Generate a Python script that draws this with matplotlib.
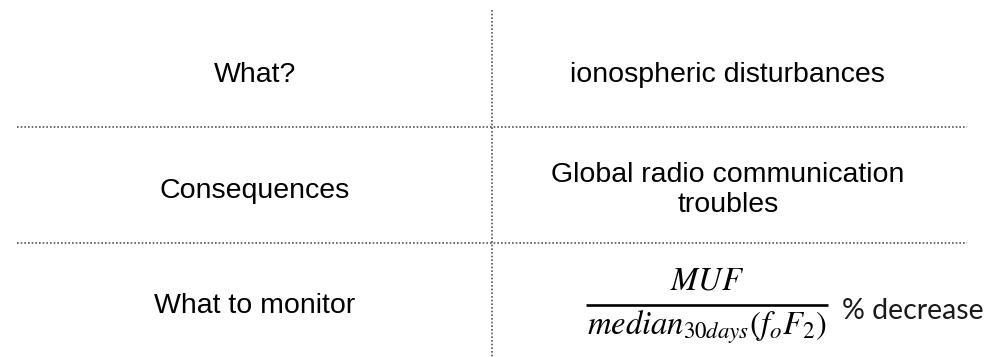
import matplotlib.pyplot as plt

# table content, one entry per row
labels = ["What?", "Consequences", "What to monitor"]
answers = ["ionospheric disturbances",
           "Global radio communication\ntroubles",
           None]
numerator = r"$MUF$"
denominator = r"$median_{30days}(f_oF_2)$"
formula_note = "% decrease"

plt.rcParams['mathtext.fontset'] = 'stix'

fig = plt.figure(figsize=(9.88, 3.57), dpi=100)
ax = fig.add_axes([0, 0, 1, 1])
ax.set_xlim(0, 988)
ax.set_ylim(357, 0)
ax.axis('off')

row_h = 116
top = 10
line_kw = dict(color='#555555', linestyle=(0, (1, 1.2)), linewidth=1.2)

# grid: one vertical divider, horizontal dividers between rows
ax.plot([492, 492], [top, 357], **line_kw)
for i in range(1, len(labels)):
    y = top + i * row_h + 1
    ax.plot([17, 967], [y, y], **line_kw)

for i, lab in enumerate(labels):
    base = 82 + i * 115.5
    ax.text(255, base, lab, ha='center', va='baseline', fontsize=20.5,
            family='Liberation Sans', color='black')
    if answers[i] is None:
        # fraction drawn as numerator / bar / denominator
        ax.text(707, base - 23, numerator, ha='center', va='baseline', fontsize=23.5, color='black')
        ax.plot([586, 828], [base - 8, base - 8], color='black', linewidth=1.9,
                solid_capstyle='butt')
        ax.text(707, base + 21, denominator, ha='center', va='baseline', fontsize=23.5, color='black')
        ax.text(913, base + 6, formula_note, ha='center', va='baseline', fontsize=20.5,
                family='Lato', color='#1a1a1a')
    elif "\n" in answers[i]:
        ax.text(728, base - 7, answers[i], ha='center', va='center', fontsize=20.5,
                family='Liberation Sans', color='black', linespacing=1.2)
    else:
        ax.text(727, base, answers[i], ha='center', va='baseline', fontsize=20.5,
                family='Liberation Sans', color='black')

fig.savefig("out.png", dpi=100)
